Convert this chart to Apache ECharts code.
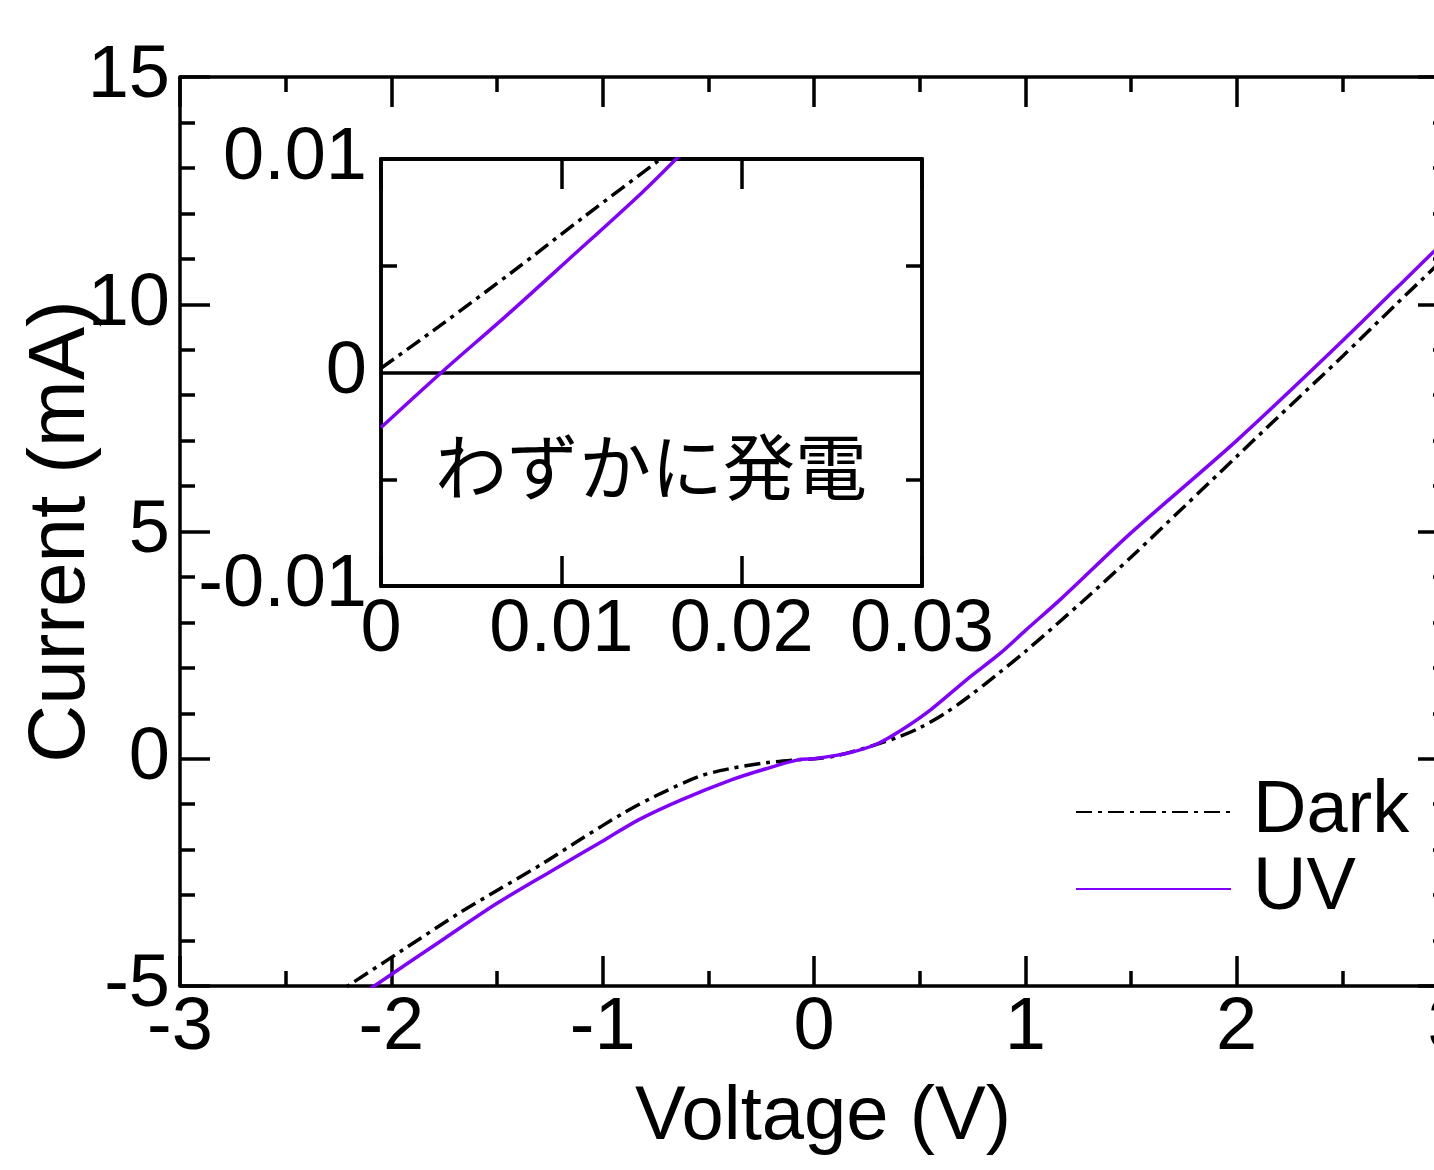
<!DOCTYPE html>
<html><head><meta charset="utf-8">
<script src="https://cdn.jsdelivr.net/npm/echarts@6/dist/echarts.min.js"></script>
<style>html,body{margin:0;padding:0;background:#fff}#c{width:1434px;height:1170px}</style>
</head><body><div id="c"></div>
<script>
// Main plot data (Voltage in V, Current in mA)
const darkV = [-2.30, -2.20, -1.95, -1.677, -1.50, -1.278, -1.10, -0.90, -0.75, -0.544, -0.40, -0.229, -0.10, 0, 0.10, 0.245, 0.40, 0.50, 0.62, 0.733, 0.876, 1.00, 1.268, 1.506, 1.75, 2.00, 2.185, 2.50, 2.75, 3.00];
const darkI = [-5.29, -4.98, -4.22, -3.39, -2.90, -2.29, -1.76, -1.19, -0.82, -0.39, -0.22, -0.09, -0.03, 0, 0.06, 0.24, 0.48, 0.68, 1.00, 1.37, 1.89, 2.36, 3.45, 4.46, 5.54, 6.65, 7.47, 8.85, 9.98, 11.09];
const uvV = [-2.20, -2.084, -1.75, -1.496, -1.25, -0.989, -0.828, -0.625, -0.388, -0.227, -0.071, 0, 0.166, 0.30, 0.42, 0.55, 0.733, 0.876, 1.00, 1.174, 1.50, 2.00, 2.50, 2.926, 3.00];
const uvI = [-5.38, -5.01, -3.96, -3.17, -2.49, -1.78, -1.34, -0.90, -0.46, -0.22, -0.02, 0, 0.13, 0.33, 0.65, 1.07, 1.78, 2.30, 2.82, 3.54, 4.97, 7.00, 9.19, 11.13, 11.45];
// Inset data (V, mA)
const insetDarkV = [0, 0.00335, 0.00731, 0.01127, 0.01543, 0.0158];
const insetDarkI = [0.0002, 0.00224, 0.00473, 0.0073, 0.00995, 0.0102];
const insetUvV = [0, 0.00335, 0.00691, 0.01028, 0.01444, 0.0166];
const insetUvI = [-0.00258, 0, 0.00263, 0.0052, 0.0084, 0.0102];
// Tick settings
const mainXTicks = {min: -3, max: 3, interval: 1};
const mainYTicks = {min: -5, max: 15, interval: 5};
const insetXTicks = {min: 0, max: 0.03, interval: 0.01};
const insetYTicks = {min: -0.01, max: 0.01, interval: 0.01};
const seriesNames = ['Dark', 'UV'];
const annotation = 'わずかに発電';

const zip = (a, b) => a.map((v, i) => [v, b[i]]);
const FONT = 'Arial, "Liberation Sans", Helvetica, sans-serif';
const black = '#000';
const purple = '#8000ff';
const lw = 3.5;
const dashDot = [16, 6, 4, 6];

function axisBase(extra) {
  return Object.assign({
    type: 'value',
    axisLine: {show: true, onZero: false, lineStyle: {color: black, width: lw}},
    axisTick: {show: true, inside: true, length: 30, lineStyle: {color: black, width: lw}},
    splitLine: {show: false},
    axisLabel: {show: false}
  }, extra);
}
const labelStyle = {show: true, fontSize: 74, color: black, fontFamily: FONT};

const chart = echarts.init(document.getElementById('c'), null, {renderer: 'canvas'});
chart.setOption({
  animation: false,
  backgroundColor: '#fff',
  grid: [
    {left: 180, top: 77, width: 1268, height: 909, show: false, containLabel: false, outerBoundsMode: 'none'},
    {left: 381, top: 159, width: 541, height: 427, show: true, backgroundColor: '#fff', borderColor: black, borderWidth: lw, containLabel: false, outerBoundsMode: 'none'}
  ],
  xAxis: [
    axisBase(Object.assign({gridIndex: 0, position: 'bottom',
      minorTick: {show: true, splitNumber: 2, length: 15, lineStyle: {color: black, width: lw}},
      axisLabel: Object.assign({}, labelStyle, {margin: 6}),
      name: 'Voltage (V)', nameLocation: 'middle', nameGap: 94, nameMoveOverlap: false,
      nameTextStyle: {fontSize: 76, color: black, fontFamily: FONT, padding: [0, 0, 0, 18]}}, mainXTicks)),
    axisBase(Object.assign({gridIndex: 0, position: 'top',
      minorTick: {show: true, splitNumber: 2, length: 15, lineStyle: {color: black, width: lw}}}, mainXTicks)),
    axisBase(Object.assign({gridIndex: 1, position: 'bottom',
      axisLabel: Object.assign({}, labelStyle, {margin: 8})}, insetXTicks)),
    axisBase(Object.assign({gridIndex: 1, position: 'top'}, insetXTicks))
  ],
  yAxis: [
    axisBase(Object.assign({gridIndex: 0, position: 'left',
      minorTick: {show: true, splitNumber: 5, length: 15, lineStyle: {color: black, width: lw}},
      axisLabel: Object.assign({}, labelStyle, {margin: 10}),
      name: 'Current (mA)', nameLocation: 'middle', nameGap: 78, nameMoveOverlap: false,
      nameTextStyle: {fontSize: 80, color: black, fontFamily: FONT}}, mainYTicks)),
    axisBase(Object.assign({gridIndex: 0, position: 'right',
      minorTick: {show: true, splitNumber: 5, length: 15, lineStyle: {color: black, width: lw}}}, mainYTicks)),
    axisBase(Object.assign({gridIndex: 1, position: 'left',
      axisTick: {show: false, inside: true},
      minorTick: {show: true, splitNumber: 2, length: 16, lineStyle: {color: black, width: lw}},
      splitLine: {show: true, lineStyle: {color: black, width: lw}},
      axisLabel: Object.assign({}, labelStyle, {margin: 14})}, insetYTicks)),
    axisBase(Object.assign({gridIndex: 1, position: 'right',
      axisTick: {show: false, inside: true},
      minorTick: {show: true, splitNumber: 2, length: 16, lineStyle: {color: black, width: lw}}}, insetYTicks))
  ],
  legend: {
    data: seriesNames,
    orient: 'vertical',
    left: 1075, top: 775,
    padding: 0,
    itemWidth: 155, itemHeight: 14, itemGap: 3,
    itemStyle: {opacity: 0},
    textStyle: {fontSize: 74, color: black, fontFamily: FONT, padding: [0, 0, 0, 17]}
  },
  graphic: [{
    type: 'text', x: 651, y: 467, z: 100,
    style: {text: annotation, fontSize: 72, fontFamily: '"Noto Sans CJK JP", sans-serif', fill: black, align: 'center', verticalAlign: 'middle'}
  }],
  series: [
    {name: seriesNames[0], type: 'line', xAxisIndex: 0, yAxisIndex: 0, data: zip(darkV, darkI), showSymbol: false, symbol: 'none', smooth: 0.3, clip: true,
      itemStyle: {color: black}, lineStyle: {color: black, width: lw, type: dashDot}},
    {name: seriesNames[1], type: 'line', xAxisIndex: 0, yAxisIndex: 0, data: zip(uvV, uvI), showSymbol: false, symbol: 'none', smooth: 0.3, clip: true,
      itemStyle: {color: purple}, lineStyle: {color: purple, width: lw}},
    {name: seriesNames[0], type: 'line', xAxisIndex: 2, yAxisIndex: 2, data: zip(insetDarkV, insetDarkI), showSymbol: false, symbol: 'none', smooth: 0.3, clip: true,
      itemStyle: {color: black}, lineStyle: {color: black, width: lw, type: dashDot}},
    {name: seriesNames[1], type: 'line', xAxisIndex: 2, yAxisIndex: 2, data: zip(insetUvV, insetUvI), showSymbol: false, symbol: 'none', smooth: 0.3, clip: true,
      itemStyle: {color: purple}, lineStyle: {color: purple, width: lw}}
  ]
});
</script>
</body></html>
